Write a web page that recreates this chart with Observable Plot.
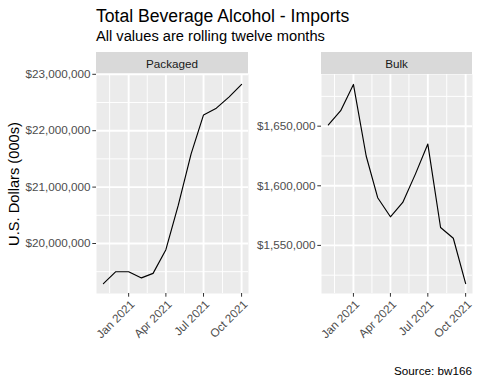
<!DOCTYPE html>
<html>
<head>
<meta charset="utf-8">
<script src="https://cdn.jsdelivr.net/npm/d3@7"></script>
<script src="https://cdn.jsdelivr.net/npm/@observablehq/plot@0.6"></script>
<style>
  html, body { margin: 0; padding: 0; background: white; }
  #root { position: relative; width: 480px; height: 384px; overflow: hidden; font-family: "Liberation Sans", Arial, sans-serif; }
  .abs { position: absolute; white-space: nowrap; line-height: 1; }
  .strip { position: absolute; background: #D9D9D9; color: #1A1A1A; font-size: 11.7px; display: flex; align-items: center; justify-content: center; }
</style>
</head>
<body>
<div id="root"></div>
<script>
// ---- data ----
const months = ["2020-11-01","2020-12-01","2021-01-01","2021-02-01","2021-03-01","2021-04-01",
                "2021-05-01","2021-06-01","2021-07-01","2021-08-01","2021-09-01","2021-10-01"];
const packaged = [19290000, 19500000, 19500000, 19390000, 19470000, 19890000,
                  20680000, 21590000, 22280000, 22400000, 22600000, 22820000];
const bulk = [1651000, 1663000, 1685000, 1625000, 1590000, 1574000,
              1586000, 1610000, 1635000, 1565000, 1556000, 1518000];
const facets = ["Packaged", "Bulk"];
const xTicks = ["2021-01-01","2021-04-01","2021-07-01","2021-10-01"];
const xMinor = ["2020-11-16","2021-02-15","2021-05-16","2021-08-16"];
const packagedTicks = [20000000, 21000000, 22000000, 23000000];
const packagedMinor = [19500000, 20500000, 21500000, 22500000];
const bulkTicks = [1550000, 1600000, 1650000];
const bulkMinor = [1525000, 1575000, 1625000, 1675000];
const title = "Total Beverage Alcohol - Imports";
const subtitle = "All values are rolling twelve months";
const yLabel = "U.S. Dollars (000s)";
const caption = "Source: bw166";

const root = document.getElementById("root");
const font = "Liberation Sans, Arial, sans-serif";

function addText(txt, css) {
  const d = document.createElement("div");
  d.className = "abs";
  d.textContent = txt;
  Object.assign(d.style, css);
  root.appendChild(d);
  return d;
}

function panel(values, yTicks, yMinor, width, marginLeft) {
  const data = months.map((m, i) => ({date: new Date(m), value: values[i]}));
  const [x0, x1] = d3.extent(data, d => d.date);
  const dx = (x1 - x0) * 0.05;
  const [y0, y1] = d3.extent(data, d => d.value);
  const dy = (y1 - y0) * 0.05;
  const fmt = d => "$" + d3.format(",")(d);
  const xt = xTicks.map(d => new Date(d));
  return Plot.plot({
    width, height: 274,
    marginLeft, marginRight: 0, marginTop: 0, marginBottom: 55,
    style: {fontFamily: font, background: "transparent", overflow: "visible"},
    x: {type: "utc", domain: [new Date(+x0 - dx), new Date(+x1 + dx)]},
    y: {domain: [y0 - dy, y1 + dy]},
    marks: [
      Plot.frame({fill: "#EBEBEB", stroke: null}),
      Plot.gridY(yMinor, {stroke: "white", strokeOpacity: 1, strokeWidth: 0.95}),
      Plot.gridX(xMinor.map(d => new Date(d)), {stroke: "white", strokeOpacity: 1, strokeWidth: 0.95}),
      Plot.gridY(yTicks, {stroke: "white", strokeOpacity: 1, strokeWidth: 1.9}),
      Plot.gridX(xt, {stroke: "white", strokeOpacity: 1, strokeWidth: 1.9}),
      Plot.axisY(yTicks, {tickFormat: fmt, tickSize: 3.7, tickPadding: 2.2, fontSize: 11.7,
                          fill: "#4D4D4D", stroke: "#333333", strokeWidth: 1, label: null}),
      // tick marks only
      Plot.axisX(xt, {tickFormat: () => "", tickSize: 3.7, stroke: "#333333", strokeWidth: 1, label: null}),
      // rotated labels only
      Plot.axisX(xt, {tickFormat: d3.utcFormat("%b %Y"), tickRotate: -45,
                      tickSize: 0, tickPadding: 5.9, fontSize: 11.7, dx: 4, dy: 3,
                      fill: "#4D4D4D", label: null}),
      Plot.line(data, {x: "date", y: "value", stroke: "black", strokeWidth: 1.15})
    ]
  });
}

// title & subtitle
addText(title, {left: "96px", top: "7.5px", fontSize: "17.6px", color: "#000"});
addText(subtitle, {left: "96px", top: "29px", fontSize: "14.67px", color: "#000"});

// strips
const strips = [{left: 96, width: 152}, {left: 321, width: 151}];
facets.forEach((f, i) => {
  const s = document.createElement("div");
  s.className = "strip";
  s.textContent = f;
  Object.assign(s.style, {left: strips[i].left + "px", width: strips[i].width + "px", top: "52px", height: "22px"});
  root.appendChild(s);
});

// panels
const p1 = panel(packaged, packagedTicks, packagedMinor, 248, 96);
Object.assign(p1.style, {position: "absolute", left: "0px", top: "74px"});
root.appendChild(p1);
const p2 = panel(bulk, bulkTicks, bulkMinor, 222, 71);
Object.assign(p2.style, {position: "absolute", left: "250px", top: "74px"});
root.appendChild(p2);

// y label
addText(yLabel, {left: "13.5px", top: "184px", fontSize: "14.67px", color: "#000",
  transform: "translate(-50%, -50%) rotate(-90deg)"});

// caption
addText(caption, {right: "8px", top: "365px", fontSize: "11.7px", color: "#000"});
</script>
</body>
</html>
